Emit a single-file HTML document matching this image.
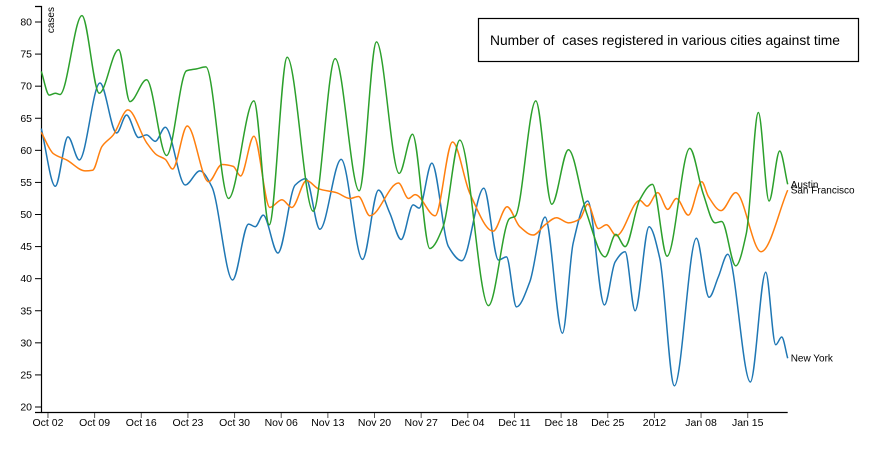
<!DOCTYPE html>
<html><head><meta charset="utf-8"><style>
html,body{margin:0;padding:0;background:#fff;}
svg{display:block;font-family:"Liberation Sans",Arial,sans-serif;}
.line{fill:none;stroke-width:1.5px;}
.tick text{font-size:10.5px;fill:#000;}
</style></head><body>
<svg id="chart" width="893" height="449">
  <g id="axes"></g>
  <g id="series"></g>
  <g>
    <rect x="478.5" y="18.5" width="380" height="43" fill="#fff" stroke="#000" stroke-width="1.2"></rect>
    <text x="490" y="45" font-size="14" textLength="350" lengthAdjust="spacingAndGlyphs">Number of&#160; cases registered in various cities against time</text>
  </g>
</svg>
<script>
// x values are days after Oct 01 2011
const nyDays=[0,2.1,4.0,5.7,8.8,11.3,12.8,14.6,15.8,17.1,18.6,21.6,23.8,25.6,28.7,31.1,32.1,33.3,35.5,38.1,39.7,41.8,45.0,48.2,50.6,52.3,54.0,55.8,56.7,58.6,61.1,63.1,66.4,68.6,69.8,71.3,73.3,75.6,78.2,79.8,82.0,84.5,86.1,87.6,89.1,91.2,92.8,95.0,98.3,100.2,101.6,103.0,106.4,108.7,110.2,111.1,112.0];
const nyVals=[63.4,54.4,62.1,58.5,70.5,62.7,65.5,62.0,62.4,61.4,63.6,54.6,56.8,54.3,39.8,48.5,48.1,49.9,44.0,54.6,55.6,47.7,58.6,43.0,53.8,50.2,46.1,51.5,51.0,58.0,45.0,42.8,54.1,42.9,43.4,35.6,39.5,49.6,31.5,45.5,52.1,35.9,42.6,44.2,35.0,48.1,43.2,23.3,46.3,37.1,40.3,43.8,23.9,41.0,29.7,30.9,27.6];
const sfDays=[0,1.8,3.8,6.6,7.7,9.1,10.8,13.0,15.8,17.3,18.6,19.7,21.9,25.1,27.1,28.8,29.9,31.9,34.3,36.1,37.6,39.8,41.6,44.3,46.3,47.6,49.3,53.6,55.1,56.1,59.1,61.7,64.3,67.8,69.9,71.8,73.8,75.6,77.3,79.1,80.8,82.0,83.6,84.8,86.3,89.8,90.9,92.5,94.0,95.3,97.1,99.1,100.1,102.0,104.2,108.0,112.0];
const sfVals=[62.8,59.5,58.5,56.8,56.9,60.6,62.4,66.3,61.2,59.3,58.6,57.1,63.8,55.1,57.8,57.5,56.0,62.2,51.1,52.3,51.1,55.3,54.0,53.4,52.5,52.8,49.8,54.9,52.5,53.1,49.8,61.3,53.3,47.4,51.2,48.1,46.8,48.4,49.5,48.7,49.3,51.6,47.8,48.4,46.7,52.2,51.3,53.4,50.8,52.5,49.9,55.1,52.8,50.6,53.4,44.2,53.8];
const auDays=[0,1.2,2.1,2.8,6.1,8.7,11.6,13.3,15.8,18.8,21.8,23.3,24.7,28.1,31.9,34.2,36.9,40.8,44.1,47.7,50.3,53.7,55.7,58.3,60.3,62.8,67.1,70.3,71.1,74.2,76.6,79.1,81.8,84.6,86.2,87.6,89.8,91.7,93.9,97.3,99.3,101.1,102.1,104.2,105.8,107.6,109.2,110.8,112.0];
const auVals=[72.3,68.6,68.9,68.7,81.0,68.9,75.7,67.6,71.0,59.2,72.4,72.7,73.0,52.5,67.7,48.4,74.5,50.5,74.3,53.7,76.9,56.4,62.5,44.7,48.1,61.6,35.8,49.4,49.7,67.7,51.6,60.1,50.3,43.4,46.9,45.0,52.3,54.7,43.5,60.3,53.3,48.7,48.9,42.0,47.1,65.9,52.1,59.9,54.7];
const seriesNames=["New York","San Francisco","Austin"];
const xTickDays=[1,8,15,22,29,36,43,50,57,64,71,78,85,92,99,106];
const xTickLabels=["Oct 02","Oct 09","Oct 16","Oct 23","Oct 30","Nov 06","Nov 13","Nov 20","Nov 27","Dec 04","Dec 11","Dec 18","Dec 25","2012","Jan 08","Jan 15"];
const yTicks=[20,25,30,35,40,45,50,55,60,65,70,75,80];

const NS="http://www.w3.org/2000/svg";
const X0=41.3, X1=787.7, D0=0, D1=112;
const x=d=>X0+(d-D0)/(D1-D0)*(X1-X0);
const y=v=>22+(80-v)*(385/60);
function mk(tag,attrs,parent){const e=document.createElementNS(NS,tag);for(const k in attrs)e.setAttribute(k,attrs[k]);parent.appendChild(e);return e;}

function monotonePath(px,py){
  const n=px.length;const m=new Array(n).fill(0);const s=[];
  for(let i=0;i<n-1;i++)s.push((py[i+1]-py[i])/(px[i+1]-px[i]));
  for(let i=1;i<n-1;i++){
    if(s[i-1]*s[i]<=0)m[i]=0;
    else{const h0=px[i]-px[i-1],h1=px[i+1]-px[i];
      m[i]=3*(h0+h1)/((2*h1+h0)/s[i-1]+(h1+2*h0)/s[i]);}
  }
  m[0]=s[0];m[n-1]=s[n-2];
  let d="M"+px[0]+","+py[0];
  for(let i=0;i<n-1;i++){const h=(px[i+1]-px[i])/3;
    d+="C"+(px[i]+h)+","+(py[i]+m[i]*h)+","+(px[i+1]-h)+","+(py[i+1]-m[i+1]*h)+","+px[i+1]+","+py[i+1];}
  return d;
}

const axes=document.getElementById('axes');
const ya=mk('g',{},axes);


mk('path',{d:"M35,6.5H41.5V412.5H35",fill:"none",stroke:"#000","stroke-width":1.2},ya);
yTicks.forEach(v=>{
  const g=mk('g',{class:'tick'},ya);
  
  
  mk('line',{x1:35,x2:41.5,y1:y(v),y2:y(v),stroke:"#000"},g);
  const t=mk('text',{x:32,y:y(v)+3.5,"text-anchor":"end"},g);t.textContent=v;
});
const yt=mk('text',{transform:"translate(47,7) rotate(-90)","text-anchor":"end",dy:"0.71em","font-size":"10"},ya);


yt.textContent="cases";
const xa=mk('g',{},axes);


mk('line',{x1:41.5,x2:X1,y1:412.5,y2:412.5,stroke:"#000","stroke-width":1.2},xa);
xTickDays.forEach((d,i)=>{
  const g=mk('g',{class:'tick'},xa);
  
  
  mk('line',{x1:x(d),x2:x(d),y1:413,y2:418,stroke:"#555"},g);
  const t=mk('text',{x:x(d),y:426,"text-anchor":"middle"},g);t.textContent=xTickLabels[i];
});

const colors=["#1f77b4","#ff7f0e","#2ca02c"];
const allDays=[nyDays,sfDays,auDays], allVals=[nyVals,sfVals,auVals];
const labelDy=[3.5,3.5,3.5];
const ser=document.getElementById('series');
seriesNames.forEach((name,k)=>{
  const g=mk('g',{},ser);
  
  
  const px=allDays[k].map(x), py=allVals[k].map(y);
  const p=mk('path',{class:'line',d:monotonePath(px,py),stroke:colors[k]},g);
  
  
  const n=px.length-1;
  const t=mk('text',{x:px[n]+3,y:py[n]+labelDy[k],"font-size":"10"},g);
  
  
  t.textContent=name;
});
</script>
</body></html>
